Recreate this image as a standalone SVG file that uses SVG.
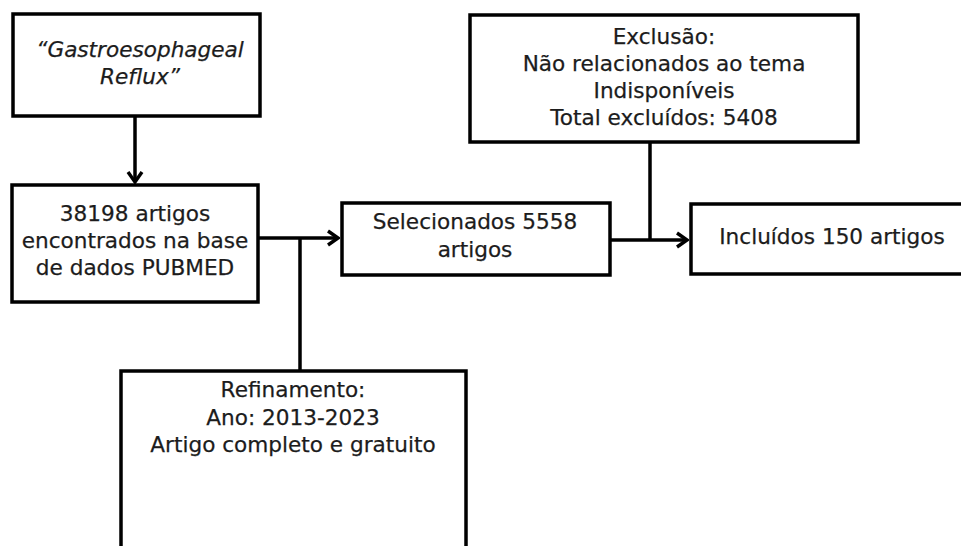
<svg xmlns="http://www.w3.org/2000/svg" width="961" height="546" viewBox="0 0 961 546">
<style>
.box{fill:#fff;stroke:#000;stroke-width:3.5}
.t{font-family:"DejaVu Sans",sans-serif;font-size:21.6px;fill:#1c1c1c;stroke:#1c1c1c;stroke-width:0.25;text-anchor:middle}
.it{font-style:italic}
.c{fill:none;stroke:#000;stroke-width:3.5}
</style>
<defs>
<marker id="arr" viewBox="-13 -9 15 18" markerWidth="15" markerHeight="18" refX="0" refY="0" orient="auto" markerUnits="userSpaceOnUse">
<path d="M-10,-7 L0,0 L-10,7" fill="none" stroke="#000" stroke-width="3.4"/>
</marker>
</defs>
<rect width="961" height="546" fill="#fff"/>
<g id="connectors">
<line class="c" x1="135" y1="116" x2="135" y2="182" marker-end="url(#arr)"/>
<line class="c" x1="258" y1="238" x2="338" y2="238" marker-end="url(#arr)"/>
<line class="c" x1="300" y1="238" x2="300" y2="371"/>
<line class="c" x1="610" y1="240" x2="687" y2="240" marker-end="url(#arr)"/>
<line class="c" x1="650" y1="142" x2="650" y2="240"/>
</g>
<g id="search">
<rect class="box" x="13" y="14" width="247" height="102"/>
<text class="t it" x="140" y="57">“Gastroesophageal</text>
<text class="t it" x="140" y="84">Reflux”</text>
</g>
<g id="found">
<rect class="box" x="12" y="185" width="246" height="117"/>
<text class="t" x="135" y="221">38198 artigos</text>
<text class="t" x="135" y="248">encontrados na base</text>
<text class="t" x="135" y="275">de dados PUBMED</text>
</g>
<g id="selected">
<rect class="box" x="342" y="203" width="268" height="72"/>
<text class="t" x="475" y="229">Selecionados 5558</text>
<text class="t" x="475" y="257">artigos</text>
</g>
<g id="exclusion">
<rect class="box" x="470" y="15" width="388" height="127"/>
<text class="t" x="664" y="44">Exclusão:</text>
<text class="t" x="664" y="71">Não relacionados ao tema</text>
<text class="t" x="664" y="98">Indisponíveis</text>
<text class="t" x="664" y="125">Total excluídos: 5408</text>
</g>
<g id="included">
<rect class="box" x="691" y="204" width="280" height="70"/>
<text class="t" x="832" y="244">Incluídos 150 artigos</text>
</g>
<g id="refinement">
<rect class="box" x="121" y="371" width="345" height="200"/>
<text class="t" x="293" y="397">Refinamento:</text>
<text class="t" x="293" y="425">Ano: 2013-2023</text>
<text class="t" x="293" y="452">Artigo completo e gratuito</text>
</g>
</svg>
